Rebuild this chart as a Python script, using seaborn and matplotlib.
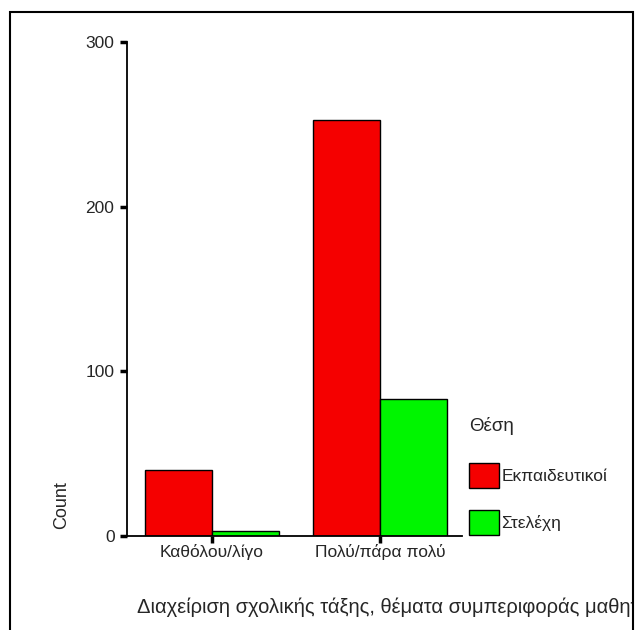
import pandas as pd
import matplotlib.pyplot as plt
import seaborn as sns
from matplotlib.patches import Rectangle
from matplotlib.transforms import Bbox

categories = ['Καθόλου/λίγο', 'Πολύ/πάρα πολύ']
groups = ['Εκπαιδευτικοί', 'Στελέχη']
teachers = [40, 253]
executives = [3, 83]
y_ticks = [0, 100, 200, 300]

df = pd.DataFrame({
    'category': categories * 2,
    'group': [groups[0]] * 2 + [groups[1]] * 2,
    'count': teachers + executives,
})

sns.set_style('white')
plt.rcParams['font.family'] = ['Liberation Sans', 'DejaVu Sans']

fig = plt.figure(figsize=(6.35, 6.3), dpi=100)
ax = fig.add_axes([0.2, 0.1497, (462 - 127) / 635, (535.7 - 42.3) / 630])

sns.barplot(data=df, x='category', y='count', hue='group', order=categories,
            hue_order=groups, palette=['#F50000', '#00F500'], width=0.8,
            edgecolor='black', linewidth=1, saturation=1, ax=ax)

ax.set_xlim(-0.506, 1.488)
ax.set_ylim(0, 300)
ax.set_yticks(y_ticks)
ax.set_yticklabels([str(v) for v in y_ticks], fontsize=12.5)
ax.set_xticks([0, 1])
ax.set_xticklabels(categories, fontsize=12.5)
ax.tick_params(axis='both', bottom=True, left=True, length=5, width=2.5,
               color='black', direction='out')
ax.tick_params(axis='x', pad=1)
ax.tick_params(axis='y', pad=4)
for s in ['top', 'right']:
    ax.spines[s].set_visible(False)
for s in ['left', 'bottom']:
    ax.spines[s].set_color('black')
    ax.spines[s].set_linewidth(1.3)
ax.set_xlabel('')
ax.set_ylabel('')

# y label
fig.text(62 / 635, 1 - 505 / 630, 'Count', rotation=90, fontsize=13,
         ha='center', va='center')

# x label, cut at the frame as in the original
t = fig.text(137 / 635, 1 - 607 / 630,
             'Διαχείριση σχολικής τάξης, θέματα συμπεριφοράς μαθητών',
             fontsize=14.5, ha='left', va='center')
t.set_clip_box(Bbox.from_extents(0, 0, 632, 630))
t.set_clip_on(True)

# legend
handles, labels = ax.get_legend_handles_labels()
leg = ax.legend(handles, labels, title='Θέση', frameon=False,
                loc='upper left', bbox_to_anchor=(469 / 635, 1 - 417 / 630),
                bbox_transform=fig.transFigure, fontsize=12.5,
                title_fontsize=13.5, handlelength=1.75, handleheight=1.85,
                handletextpad=0.12, labelspacing=1.26, borderaxespad=0,
                borderpad=0, alignment='left')
leg._legend_box.sep = 20.3
for h in leg.legend_handles:
    h.set_edgecolor('black')
    h.set_linewidth(1)

# outer frame
fig.patches.append(Rectangle((10 / 635, -0.1), (633 - 10) / 635, 1.1 - 12 / 630,
                             transform=fig.transFigure, fill=False,
                             edgecolor='black', linewidth=1.5))

fig.savefig('out.png', dpi=100)
